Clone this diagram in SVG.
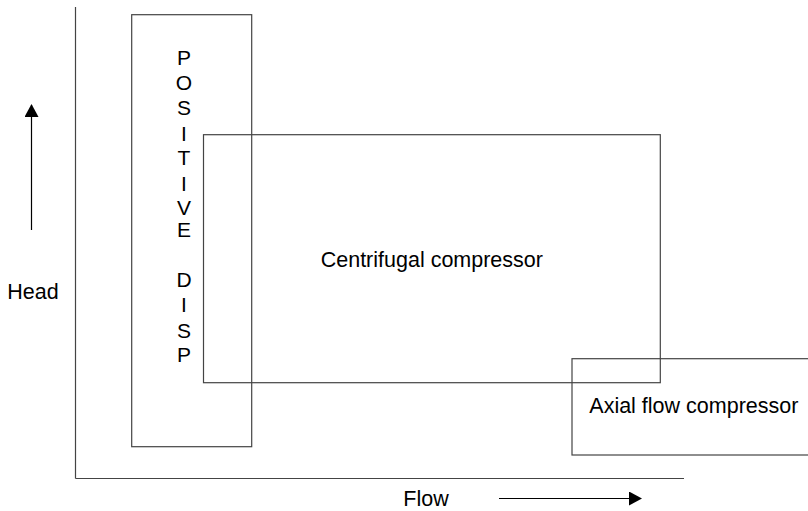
<svg xmlns="http://www.w3.org/2000/svg" width="808" height="511" viewBox="0 0 808 511">
<style>
.box{fill:none;stroke:#444;stroke-width:1.2}
.ax{fill:none;stroke:#444;stroke-width:1.2}
.arr{fill:none;stroke:#000;stroke-width:1.2}
text{font-family:"Liberation Sans",Arial,sans-serif;font-size:21.5px;fill:#000}
.v{text-anchor:middle;font-size:21px}
</style>
<defs>
<marker id="ah" markerWidth="13" markerHeight="14" refX="12" refY="7" orient="auto" markerUnits="userSpaceOnUse">
<path d="M0,0 L13,7 L0,14 Z" fill="#000"/>
</marker>
</defs>
<g id="connectors">
<line class="ax" x1="75.5" y1="7" x2="75.5" y2="478.5"/>
<line class="ax" x1="75.5" y1="478.5" x2="684" y2="478.5"/>
<line class="arr" x1="31.5" y1="230" x2="31.5" y2="105" marker-end="url(#ah)"/>
<line class="arr" x1="499" y1="498.5" x2="641" y2="498.5" marker-end="url(#ah)"/>
</g>
<g id="positive-disp">
<rect class="box" x="131.7" y="14.7" width="120" height="432"/>
<text class="v" x="184" y="65">P</text>
<text class="v" x="184" y="90">O</text>
<text class="v" x="184" y="115">S</text>
<text class="v" x="184" y="141">I</text>
<text class="v" x="184" y="165">T</text>
<text class="v" x="184" y="191">I</text>
<text class="v" x="184" y="215">V</text>
<text class="v" x="184" y="237">E</text>
<text class="v" x="184" y="287">D</text>
<text class="v" x="184" y="312">I</text>
<text class="v" x="184" y="338">S</text>
<text class="v" x="184" y="362">P</text>
</g>
<g id="centrifugal">
<rect class="box" x="203.5" y="134.7" width="456.8" height="248"/>
<text x="320.7" y="267">Centrifugal compressor</text>
</g>
<g id="axial">
<rect class="box" x="572" y="358.7" width="240" height="96.3"/>
<text x="589.3" y="413">Axial flow compressor</text>
</g>
<g id="labels">
<text x="7.3" y="298.5">Head</text>
<text x="403.3" y="505.5">Flow</text>
</g>
</svg>
